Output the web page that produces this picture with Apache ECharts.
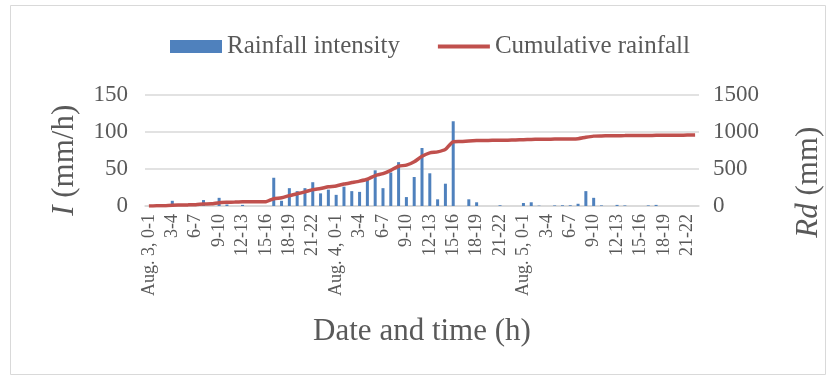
<!DOCTYPE html>
<html>
<head>
<meta charset="utf-8">
<script src="https://cdn.jsdelivr.net/npm/echarts@6/dist/echarts.min.js"></script>
<style>
html,body{margin:0;padding:0;background:#fff;}
#c{width:833px;height:381px;}
</style>
</head>
<body>
<div id="c"></div>
<script>
const days = ['Aug. 3', 'Aug. 4', 'Aug. 5'];
const hoursPerDay = [24, 24, 23];
const categories = [];
days.forEach((d, di) => {
  for (let h = 0; h < hoursPerDay[di]; h++) {
    categories.push(h === 0 ? d + ', 0-1' : h + '-' + (h + 1));
  }
});

const intensity = [
  0, 0, 0, 7, 0, 0, 0, 8, 0, 11, 2, 0, 1.5, 0, 0, 0, 38, 7, 24, 20, 24, 32, 17, 22,
  15, 26, 20, 19, 35, 48, 24, 45, 59, 12, 39, 78, 44, 9, 30, 114, 0, 9, 5, 0, 0, 1, 0, 0,
  4, 5, 0.5, 0, 0.8, 1, 1, 3, 20, 11, 0.8, 0, 1.5, 0.8, 0, 0, 0.8, 1.5, 0, 0, 0, 0, 0
];

const cumulative = [
  0, 2, 4, 11, 13, 15, 18, 26, 30, 45, 50, 53, 56, 57, 57, 58, 98, 110, 140, 165, 190, 220, 235, 258,
  270, 295, 315, 335, 360, 410, 435, 480, 535, 550, 595, 668, 715, 728, 762, 865, 868, 875, 880, 882,
  883, 884, 886, 888, 892, 896, 898, 899, 900, 901, 902, 906, 925, 940, 943, 944, 946, 947, 948, 948,
  949, 951, 952, 953, 953, 954, 955
];

const leftTicks = { min: 0, max: 150, interval: 50 };
const rightTicks = { min: 0, max: 1500, interval: 500 };

const FONT = '"Liberation Serif", "Times New Roman", serif';
const TXT = '#595959';
const GRID = '#d9d9d9';

const chart = echarts.init(document.getElementById('c'));
chart.setOption({
  animation: false,
  textStyle: { fontFamily: FONT },
  graphic: [{
    type: 'rect',
    shape: { x: 10.5, y: 5.5, width: 815, height: 369 },
    style: { fill: 'none', stroke: GRID, lineWidth: 1 },
    silent: true
  }],
  legend: {
    left: 165,
    top: 29,
    itemWidth: 52,
    itemHeight: 13,
    itemGap: 38,
    textStyle: { fontSize: 25, color: TXT, fontFamily: FONT },
    data: [
      { name: 'Rainfall intensity', icon: 'rect' },
      { name: 'Cumulative rainfall', icon: 'path://M0,0L54,0L54,4L0,4Z' }
    ]
  },
  grid: { left: 145, right: 134, top: 94.5, bottom: 175 },
  xAxis: {
    type: 'category',
    data: categories,
    axisLine: { lineStyle: { color: GRID, width: 1.5 } },
    axisTick: { show: false },
    axisLabel: { interval: 2, rotate: 90, fontSize: 18, color: TXT, margin: 8, fontFamily: FONT },
    name: 'Date and time (h)',
    nameLocation: 'middle',
    nameGap: 110,
    nameTextStyle: { fontSize: 31, color: TXT, fontFamily: FONT }
  },
  yAxis: [{
    type: 'value',
    min: leftTicks.min, max: leftTicks.max, interval: leftTicks.interval,
    axisLine: { show: false },
    axisTick: { show: false },
    splitLine: { lineStyle: { color: GRID, width: 1.5 } },
    axisLabel: { fontSize: 23, color: TXT, margin: 17, fontFamily: FONT },
    name: '{i|I} (mm/h)',
    nameLocation: 'middle',
    nameRotate: 90,
    nameGap: 65,
    nameTextStyle: {
      fontSize: 31, color: TXT, fontFamily: FONT, padding: [0, 20, 0, 0],
      rich: { i: { fontStyle: 'italic', fontSize: 31, color: TXT, fontFamily: FONT } }
    }
  }, {
    type: 'value',
    position: 'right',
    min: rightTicks.min, max: rightTicks.max, interval: rightTicks.interval,
    axisLine: { show: false },
    axisTick: { show: false },
    splitLine: { show: false },
    axisLabel: { fontSize: 23, color: TXT, margin: 14, fontFamily: FONT, formatter: v => String(v) },
    name: '{i|Rd} (mm)',
    nameLocation: 'middle',
    nameRotate: 90,
    nameGap: 94,
    nameTextStyle: {
      fontSize: 31, color: TXT, fontFamily: FONT, padding: [0, 64, 0, 0],
      rich: { i: { fontStyle: 'italic', fontSize: 31, color: TXT, fontFamily: FONT } }
    }
  }],
  series: [{
    type: 'bar',
    name: 'Rainfall intensity',
    data: intensity,
    barWidth: 3,
    itemStyle: { color: '#4F81BD' }
  }, {
    type: 'line',
    name: 'Cumulative rainfall',
    yAxisIndex: 1,
    data: cumulative,
    symbol: 'none',
    smooth: 0.2,
    lineStyle: { color: '#C0504D', width: 3.5 },
    itemStyle: { color: '#C0504D' }
  }]
});
</script>
</body>
</html>
